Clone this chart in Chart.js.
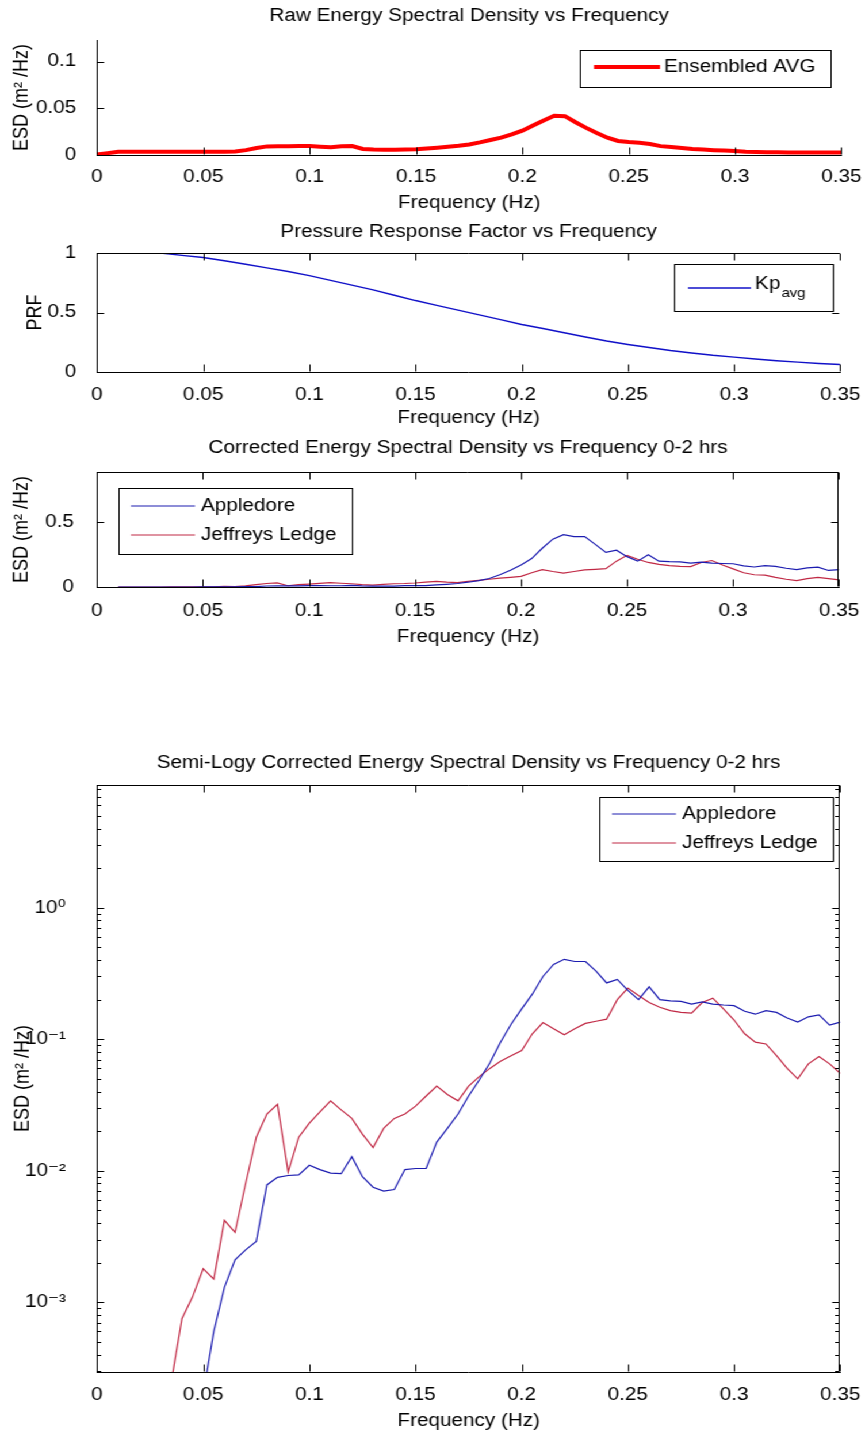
<!DOCTYPE html>
<html><head><meta charset="utf-8">
<script src="https://cdn.jsdelivr.net/npm/chart.js@4.4.0/dist/chart.umd.min.js"></script>
<style>
html,body{margin:0;padding:0;background:#fff;}
#wrap{position:absolute;left:0;top:0;width:752px;height:1437px;transform:scaleX(1.150266);transform-origin:0 0;}
#wrap canvas{position:absolute;left:0;top:0;}
</style></head><body>
<div id="wrap">
<canvas id="c1" width="752" height="1437"></canvas>
<canvas id="c2" width="752" height="1437"></canvas>
<canvas id="c3" width="752" height="1437"></canvas>
<canvas id="c4" width="752" height="1437"></canvas>
</div>
<script>
// ---------------- DATA ----------------
const rawFreq = [0,0.005,0.01,0.015,0.02,0.025,0.03,0.035,0.04,0.045,0.05,0.055,0.06,0.065,0.07,0.075,0.08,0.085,0.09,0.095,0.1,0.105,0.11,0.115,0.12,0.125,0.13,0.135,0.14,0.145,0.15,0.155,0.16,0.165,0.17,0.175,0.18,0.185,0.19,0.195,0.2,0.205,0.21,0.215,0.22,0.225,0.23,0.235,0.24,0.245,0.25,0.255,0.26,0.265,0.27,0.275,0.28,0.285,0.29,0.295,0.3,0.305,0.31,0.315,0.32,0.325,0.33,0.335,0.34,0.345,0.35];
const rawESD = [0.0005,0.002,0.0035,0.0036,0.0036,0.0036,0.0036,0.0036,0.0036,0.0036,0.0036,0.0036,0.0036,0.0038,0.0052,0.0075,0.0092,0.0093,0.0094,0.0096,0.0095,0.0088,0.0083,0.0093,0.0095,0.0065,0.0058,0.0055,0.0055,0.0058,0.0062,0.007,0.0078,0.0088,0.0098,0.0113,0.0135,0.016,0.0185,0.022,0.026,0.0315,0.037,0.042,0.0415,0.035,0.029,0.0235,0.0185,0.015,0.0138,0.013,0.0118,0.0095,0.0085,0.0075,0.0065,0.0058,0.0052,0.0048,0.0042,0.0036,0.0033,0.003,0.0029,0.0028,0.0028,0.0028,0.0028,0.0028,0.0028];

const prfFreq = [0.03,0.04,0.05,0.06,0.07,0.08,0.09,0.1,0.11,0.12,0.13,0.14,0.15,0.16,0.17,0.18,0.19,0.2,0.21,0.22,0.23,0.24,0.25,0.26,0.27,0.28,0.29,0.3,0.31,0.32,0.33,0.34,0.35];
const prfValues = [1.0,0.98,0.962,0.935,0.905,0.875,0.845,0.81,0.77,0.73,0.69,0.645,0.6,0.56,0.52,0.48,0.44,0.4,0.365,0.33,0.295,0.26,0.232,0.205,0.18,0.16,0.14,0.125,0.11,0.095,0.083,0.072,0.062];

const corrFreq = [0.01,0.015,0.02,0.025,0.03,0.035,0.04,0.045,0.05,0.055,0.06,0.065,0.07,0.075,0.08,0.085,0.09,0.095,0.1,0.105,0.11,0.115,0.12,0.125,0.13,0.135,0.14,0.145,0.15,0.155,0.16,0.165,0.17,0.175,0.18,0.185,0.19,0.195,0.2,0.205,0.21,0.215,0.22,0.225,0.23,0.235,0.24,0.245,0.25,0.255,0.26,0.265,0.27,0.275,0.28,0.285,0.29,0.295,0.3,0.305,0.31,0.315,0.32,0.325,0.33,0.335,0.34,0.345,0.35];
const appledore = [1e-5,1.5e-5,2e-5,3e-5,4e-5,5e-5,7e-5,1e-4,2e-4,6e-4,1.3e-3,2.1e-3,2.5e-3,2.9e-3,7.8e-3,8.9e-3,9.2e-3,9.3e-3,0.011,0.0102,0.0096,0.0095,0.0128,0.009,0.0075,0.007,0.0072,0.0102,0.0104,0.0104,0.0165,0.021,0.027,0.037,0.049,0.066,0.095,0.13,0.17,0.22,0.3,0.37,0.405,0.39,0.39,0.33,0.268,0.285,0.235,0.2,0.25,0.2,0.196,0.194,0.185,0.192,0.185,0.182,0.18,0.163,0.155,0.165,0.16,0.145,0.135,0.148,0.153,0.128,0.135];
const jeffreys = [2e-5,3e-5,4e-5,6e-5,1e-4,2.5e-4,7.5e-4,1.1e-3,1.8e-3,1.5e-3,4.2e-3,3.4e-3,8e-3,0.018,0.027,0.032,0.0098,0.018,0.023,0.028,0.034,0.029,0.025,0.019,0.015,0.021,0.025,0.027,0.031,0.037,0.044,0.038,0.034,0.044,0.052,0.06,0.068,0.075,0.082,0.11,0.134,0.12,0.108,0.12,0.132,0.137,0.142,0.2,0.245,0.215,0.19,0.175,0.165,0.16,0.158,0.19,0.205,0.17,0.14,0.11,0.095,0.092,0.075,0.06,0.05,0.065,0.074,0.065,0.055];

const xTicks = [0,0.05,0.1,0.15,0.2,0.25,0.3,0.35];
const xTickLabels = ['0','0.05','0.1','0.15','0.2','0.25','0.3','0.35'];
const rawTicks = [0,0.05,0.1];
const rawTickLabels = ['0','0.05','0.1'];
const prfTicks = [0,0.5,1];
const prfTickLabels = ['0','0.5','1'];
const corrTicks = [0,0.5];
const corrTickLabels = ['0','0.5'];
const logTicks = [1e-3,1e-2,1e-1,1];
const logTickLabels = ['10\u207B\u00B3','10\u207B\u00B2','10\u207B\u00B9','10\u2070'];

// ---------------- LAYOUT ----------------
const W = 752, H = 1437, S = 865/752;
const PL = 97/S, PR = 843/S;
const FONT = "'Liberation Sans', Arial, 'DejaVu Sans', sans-serif";
const FS = 18;

function pts(xs, ys){ return xs.map((x,i)=>({x:x, y:ys[i]})); }

const matlabPlugin = {
  id: 'matlab',
  afterDatasetsDraw(chart, args, o) {
    const ctx = chart.ctx, a = chart.chartArea, xs = chart.scales.x, ys = chart.scales.y;
    ctx.save();
    ctx.strokeStyle = '#000'; ctx.lineWidth = 1;
    const L = Math.round(a.left)+0.5, R = Math.round(a.right)-0.5, T = Math.round(a.top)+0.5, B = Math.round(a.bottom)-0.5;
    ctx.beginPath();
    if (o.top) { ctx.moveTo(L, T); ctx.lineTo(R+0.5, T); }
    if (o.right) { ctx.moveTo(R, T); ctx.lineTo(R, B); }
    xs.ticks.forEach(t => {
      const px = Math.round(xs.getPixelForValue(t.value))+0.5;
      ctx.moveTo(px, B); ctx.lineTo(px, B-7);
      if (o.top) { ctx.moveTo(px, T); ctx.lineTo(px, T+7); }
    });
    ys.ticks.forEach(t => {
      const py = Math.round(ys.getPixelForValue(t.value))+0.5;
      ctx.moveTo(L, py); ctx.lineTo(L+6, py);
      if (o.rightTicks) { ctx.moveTo(R, py); ctx.lineTo(R-6, py); }
    });
    if (o.logMinor) {
      for (let k=-5; k<=1; k++) for (let m=2; m<=9; m++) {
        const v = m*Math.pow(10,k);
        if (v > ys.min && v < ys.max) {
          const py = Math.round(ys.getPixelForValue(v))+0.5;
          ctx.moveTo(L, py); ctx.lineTo(L+3.5, py);
          ctx.moveTo(R, py); ctx.lineTo(R-3.5, py);
        }
      }
    }
    ctx.stroke();
    // legend
    if (o.legend) {
      const lg = o.legend;
      const bx1 = Math.round(lg.box[0]/S)+0.5, by1 = lg.box[1]+0.5, bx2 = Math.round(lg.box[2]/S)+0.5, by2 = lg.box[3]+0.5;
      ctx.fillStyle = '#fff'; ctx.fillRect(bx1, by1, bx2-bx1, by2-by1);
      ctx.strokeStyle = '#000'; ctx.lineWidth = 1; ctx.strokeRect(bx1, by1, bx2-bx1, by2-by1);
      lg.items.forEach(it => {
        const ds = chart.data.datasets[it.ds];
        ctx.strokeStyle = ds.borderColor; ctx.lineWidth = ds.borderWidth;
        ctx.beginPath(); ctx.moveTo(it.x1/S, it.y); ctx.lineTo(it.x2/S, it.y); ctx.stroke();
        ctx.fillStyle = '#000'; ctx.textAlign = 'left'; ctx.textBaseline = 'middle';
        ctx.font = FS + 'px ' + FONT;
        ctx.fillText(ds.label, it.tx/S, it.ty);
        if (it.sub) {
          const w = ctx.measureText(ds.label).width;
          ctx.font = '13px ' + FONT;
          ctx.fillText(it.sub, it.tx/S + w + 1, it.ty + 9);
        }
      });
    }
    // title
    ctx.fillStyle = '#000'; ctx.textAlign = 'center'; ctx.textBaseline = 'middle';
    ctx.font = FS + 'px ' + FONT;
    ctx.fillText(o.title, (a.left + a.right)/2, o.titleY);
    ctx.restore();
  }
};

function makeChart(id, c) {
  return new Chart(document.getElementById(id), {
    type: 'line',
    data: { datasets: c.datasets },
    options: {
      responsive: false, animation: false, events: [],
      layout: { padding: { top: c.top, bottom: H - c.axisBottom, left: 0, right: W - PR } },
      elements: { point: { radius: 0 }, line: { tension: 0 } },
      plugins: { legend: { display: false }, tooltip: { enabled: false }, title: { display: false }, matlab: c.m },
      scales: {
        x: {
          type: 'linear', min: 0, max: 0.35,
          afterBuildTicks: s => { s.ticks = xTicks.map(v => ({ value: v })); },
          afterFit: s => { s.height = c.axisBottom - c.bottom; },
          ticks: { callback: (v, i) => xTickLabels[i], padding: c.xPad, color: '#000', font: { size: FS, family: FONT }, maxRotation: 0, autoSkip: false },
          grid: { display: false },
          border: { display: true, color: '#000', width: 1 },
          title: { display: true, text: 'Frequency (Hz)', color: '#000', font: { size: FS, family: FONT }, padding: { top: 0, bottom: 0 } }
        },
        y: {
          type: c.log ? 'logarithmic' : 'linear', min: c.ymin, max: c.ymax,
          afterBuildTicks: s => { s.ticks = c.yTicks.map(v => ({ value: v })); },
          afterFit: s => { s.width = PL; },
          ticks: { callback: (v, i) => c.yLabels[i], padding: c.yPad, color: '#000', font: { size: FS, family: FONT }, autoSkip: false },
          grid: { display: false },
          border: { display: true, color: '#000', width: 1 },
          title: { display: true, text: c.yTitle, color: '#000', font: { size: FS, family: FONT }, padding: { top: c.yTitlePad, bottom: 0 } }
        }
      }
    },
    plugins: [matlabPlugin]
  });
}

// Chart 1: Raw ESD
makeChart('c1', {
  top: 40, bottom: 155, axisBottom: 214, xPad: 3, yPad: 10, yTitlePad: 8,
  ymin: 0, ymax: 0.123, yTicks: rawTicks, yLabels: rawTickLabels, yTitle: 'ESD (m\u00B2 /Hz)',
  datasets: [{ label: 'Ensembled AVG', data: pts(rawFreq, rawESD), borderColor: '#ff0000', borderWidth: 4, fill: false }],
  m: { title: 'Raw Energy Spectral Density vs Frequency', titleY: 16, top: false, right: false,
       legend: { box: [580, 50, 831, 87], items: [{ ds: 0, x1: 594, x2: 660, y: 67, tx: 664, ty: 67 }] } }
});

// Chart 2: PRF
makeChart('c2', {
  top: 253, bottom: 372, axisBottom: 429, xPad: 4, yPad: 10, yTitlePad: 20,
  ymin: 0, ymax: 1, yTicks: prfTicks, yLabels: prfTickLabels, yTitle: 'PRF',
  datasets: [{ label: 'Kp', data: pts(prfFreq, prfValues), borderColor: '#1010c8', borderWidth: 1.5, fill: false }],
  m: { title: 'Pressure Response Factor vs Frequency', titleY: 232, top: true, right: false, rightTicks: true,
       legend: { box: [674, 264, 833, 311], items: [{ ds: 0, x1: 688, x2: 751, y: 288, tx: 755, ty: 284, sub: 'avg' }] } }
});

// Chart 3: Corrected ESD
makeChart('c3', {
  top: 472, bottom: 587, axisBottom: 648, xPad: 5, yPad: 12, yTitlePad: 8,
  ymin: 0, ymax: 0.89, yTicks: corrTicks, yLabels: corrTickLabels, yTitle: 'ESD (m\u00B2 /Hz)',
  datasets: [
    { label: 'Appledore', data: pts(corrFreq, appledore), borderColor: '#1c1cb0', borderWidth: 1.2, fill: false },
    { label: 'Jeffreys Ledge', data: pts(corrFreq, jeffreys), borderColor: '#c02844', borderWidth: 1.2, fill: false }
  ],
  m: { title: 'Corrected Energy Spectral Density vs Frequency 0-2 hrs', titleY: 448, top: true, right: true, rightTicks: true,
       legend: { box: [119, 488, 352, 554], items: [
         { ds: 0, x1: 131, x2: 195, y: 506, tx: 201, ty: 506 },
         { ds: 1, x1: 131, x2: 195, y: 535, tx: 201, ty: 535 } ] } }
});

// Chart 4: Semi-log
makeChart('c4', {
  top: 785, bottom: 1372, axisBottom: 1432, xPad: 4, yPad: 19, yTitlePad: 9, log: true,
  ymin: 2.95e-4, ymax: 8.57, yTicks: logTicks, yLabels: logTickLabels, yTitle: 'ESD (m\u00B2 /Hz)',
  datasets: [
    { label: 'Appledore', data: pts(corrFreq, appledore), borderColor: '#1c1cb0', borderWidth: 1.2, fill: false },
    { label: 'Jeffreys Ledge', data: pts(corrFreq, jeffreys), borderColor: '#c02844', borderWidth: 1.2, fill: false }
  ],
  m: { title: 'Semi-Logy Corrected Energy Spectral Density vs Frequency 0-2 hrs', titleY: 763, top: true, right: true, rightTicks: true, logMinor: true,
       legend: { box: [599, 797, 833, 861], items: [
         { ds: 0, x1: 612, x2: 676, y: 814, tx: 682, ty: 814 },
         { ds: 1, x1: 612, x2: 676, y: 843, tx: 682, ty: 843 } ] } }
});
</script>
</body></html>
